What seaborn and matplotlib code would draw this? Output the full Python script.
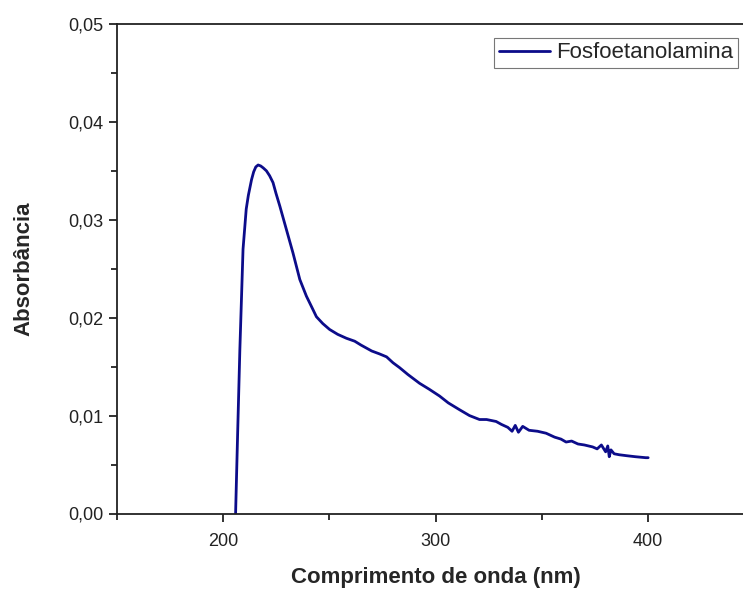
import matplotlib
matplotlib.use("Agg")
import matplotlib.pyplot as plt
import seaborn as sns
import pandas as pd
from matplotlib.ticker import MultipleLocator, FuncFormatter
from matplotlib.lines import Line2D

wavelength = [206, 207, 208, 209.5, 211, 212, 213.5, 214.5, 215.5, 216.6, 217.8, 219,
              220.5, 222, 223.6, 225, 226.8, 229.9, 233, 236.2, 239.3, 242, 244, 247,
              250.2, 254, 258.1, 262, 265, 267.5, 270, 273.7, 277, 280, 283.1, 287,
              292.5, 297, 301.9, 306, 311.3, 316, 320.7, 324, 328.5, 331, 334, 336,
              337.5, 339, 341, 344, 348, 352, 356, 359, 361.4, 364, 367, 370, 373.9,
              376, 378, 380, 381, 381.7, 382.5, 384, 386.4, 390, 394, 398.9, 400]
absorbance = [0.0, 0.0085, 0.0167, 0.0270, 0.0311, 0.0325, 0.0341, 0.0349, 0.0354,
              0.0356, 0.0355, 0.0353, 0.0350, 0.0345, 0.0338, 0.0327, 0.0314, 0.0290,
              0.0266, 0.0239, 0.0222, 0.0210, 0.0201, 0.0194, 0.0188, 0.0183, 0.0179,
              0.0176, 0.0172, 0.0169, 0.0166, 0.0163, 0.0160, 0.0154, 0.0149, 0.0142,
              0.0133, 0.0127, 0.0120, 0.0113, 0.0106, 0.0100, 0.0096, 0.0096, 0.0094,
              0.0091, 0.0088, 0.0084, 0.0090, 0.0083, 0.0089, 0.0085, 0.0084, 0.0082,
              0.0078, 0.0076, 0.0073, 0.0074, 0.0071, 0.0070, 0.0068, 0.0066, 0.0070,
              0.0063, 0.0069, 0.0058, 0.0065, 0.0061, 0.0060, 0.0059, 0.0058, 0.0057,
              0.0057]
series_name = "Fosfoetanolamina"
x_label = "Comprimento de onda (nm)"
y_label = "Absorbância"

sns.set_style("ticks")
plt.rcParams["font.family"] = ["Liberation Sans", "DejaVu Sans"]

df = pd.DataFrame({"x": wavelength, "y": absorbance, "s": series_name})
line_color = "#0c0c8a"

fig = plt.figure(figsize=(7.43, 5.90), dpi=100)
ax = fig.add_axes([116.5 / 743, 76.5 / 590, 638 / 743, 489.5 / 590])

sns.lineplot(data=df, x="x", y="y", hue="s", palette=[line_color], linewidth=2.0,
             ax=ax, legend=False, estimator=None, sort=False)
for ln in ax.lines:
    ln.set_solid_joinstyle("round")

ax.set_xlim(150, 450)
ax.set_ylim(0, 0.05)
ax.xaxis.set_major_locator(MultipleLocator(100))
ax.xaxis.set_minor_locator(MultipleLocator(50))
ax.yaxis.set_major_locator(MultipleLocator(0.01))
ax.yaxis.set_minor_locator(MultipleLocator(0.005))
ax.yaxis.set_major_formatter(FuncFormatter(lambda v, p: f"{v:.2f}".replace(".", ",")))
ax.xaxis.set_major_formatter(FuncFormatter(lambda v, p: f"{v:.0f}"))

for s in ax.spines.values():
    s.set_linewidth(1.3)
    s.set_color("#222222")
ax.tick_params(which="major", direction="out", length=6, width=1.3, labelsize=13,
               color="#222222", labelcolor="#222222")
ax.tick_params(which="minor", direction="out", length=4, width=1.3, color="#222222")
ax.tick_params(axis="x", pad=8)

ax.set_xlabel(x_label, fontsize=16, fontweight="bold", labelpad=12)
ax.set_ylabel(y_label, fontsize=16, fontweight="bold", labelpad=24)

handle = Line2D([], [], color=line_color, linewidth=2.0)
leg = ax.legend([handle], [series_name], loc="upper right",
                bbox_to_anchor=(738 / 743, 1 - 38 / 590), bbox_transform=fig.transFigure,
                fontsize=16, frameon=True, fancybox=False, borderpad=0.2,
                handlelength=2.3, handletextpad=0.3, borderaxespad=0)
leg.get_frame().set_edgecolor("#555555")
leg.get_frame().set_linewidth(0.8)

fig.savefig("out.png", dpi=100)
